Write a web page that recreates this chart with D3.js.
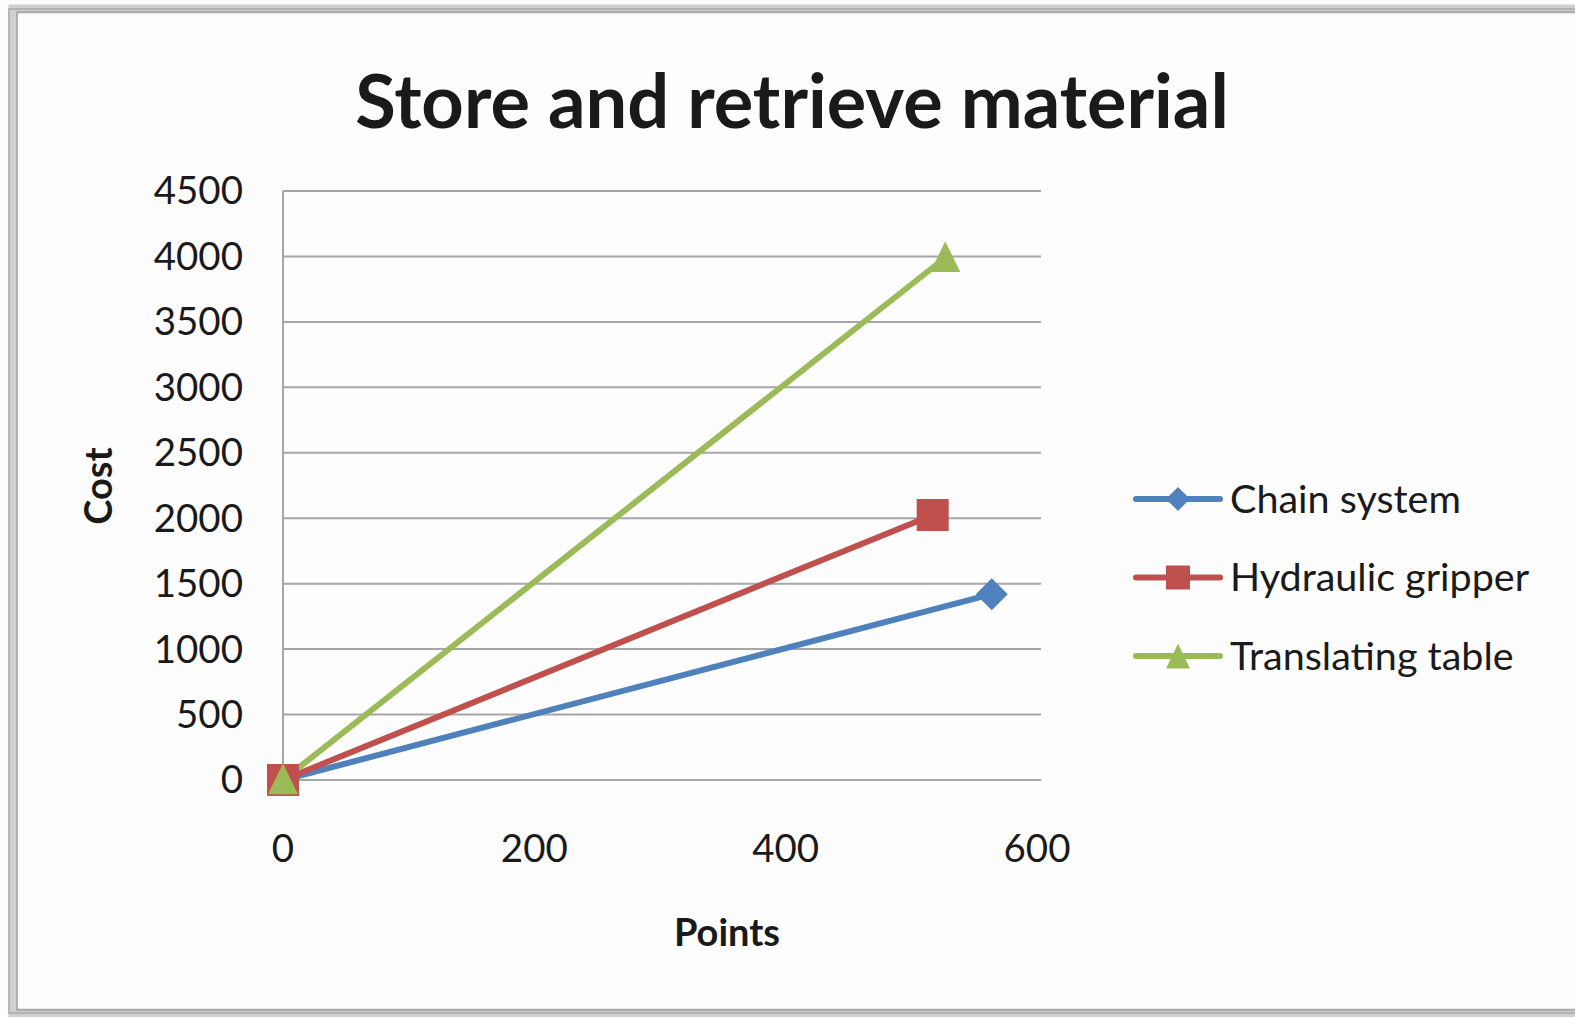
<!DOCTYPE html>
<html lang="en">
<head>
<meta charset="UTF-8">
<title>Store and retrieve material</title>
<style>
  body { margin: 0; background: #fdfdfd; }
  svg { display: block; }
  text { font-family: Lato, "Open Sans", sans-serif; fill: #1a1a1a; }
</style>
</head>
<body>
<div id="chart"></div>
<script src="https://d3js.org/d3.v7.min.js"></script>
<script>
// data
const seriesNames = ["Chain system", "Hydraulic gripper", "Translating table"];
const seriesColors = ["#4F81BD", "#C0504D", "#9BBB59"];
const seriesSymbols = ["diamond", "square", "triangle"];
const chainPoints = [[0, 0], [564, 1420]];
const hydraulicPoints = [[0, 0], [517, 2025]];
const translatingPoints = [[0, 0], [527, 3990]];
const xTicks = [0, 200, 400, 600];
const yTicks = [0, 500, 1000, 1500, 2000, 2500, 3000, 3500, 4000, 4500];

const seriesData = [chainPoints, hydraulicPoints, translatingPoints];

const width = 1575, height = 1017;
const margin = {left: 283, right: 538, top: 191, bottom: 237};

const svg = d3.select("#chart").append("svg")
    .attr("width", width)
    .attr("height", height);

// outer frame
svg.append("rect")
    .attr("x", 13).attr("y", 9)
    .attr("width", width + 20).attr("height", 1004)
    .attr("fill", "#fdfdfd")
    .attr("stroke", "#d0d0d0")
    .attr("stroke-width", 9);
svg.append("rect")
    .attr("x", 17).attr("y", 12)
    .attr("width", width + 20).attr("height", 998)
    .attr("fill", "none")
    .attr("stroke", "#a0a0a0")
    .attr("stroke-width", 1.5);
svg.append("rect")
    .attr("x", 9).attr("y", 9)
    .attr("width", width + 20).attr("height", 1004)
    .attr("fill", "none")
    .attr("stroke", "#a8a8a8")
    .attr("stroke-width", 1.5);

const x = d3.scaleLinear()
    .domain([0, 600])
    .range([margin.left, width - margin.right]);
const y = d3.scaleLinear()
    .domain([0, 4500])
    .range([height - margin.bottom, margin.top]);

// gridlines
svg.append("g")
    .attr("stroke", "#a6a6a6")
    .attr("stroke-width", 2)
    .selectAll("line")
    .data(yTicks)
    .join("line")
    .attr("x1", x(0))
    .attr("x2", x(600) + 4)
    .attr("y1", d => y(d))
    .attr("y2", d => y(d));

// y axis line
svg.append("line")
    .attr("x1", x(0)).attr("x2", x(0))
    .attr("y1", y(0)).attr("y2", y(4500))
    .attr("stroke", "#a6a6a6")
    .attr("stroke-width", 2);

// tick labels
svg.append("g")
    .style("font-size", "38.5px")
    .selectAll("text")
    .data(yTicks)
    .join("text")
    .attr("x", x(0) - 40)
    .attr("y", d => y(d))
    .attr("dy", "0.35em")
    .attr("text-anchor", "end")
    .text(d => d);

svg.append("g")
    .style("font-size", "38.5px")
    .selectAll("text")
    .data(xTicks)
    .join("text")
    .attr("x", d => x(d))
    .attr("y", y(0) + 82)
    .attr("text-anchor", "middle")
    .text(d => d);

// title and axis titles
svg.append("text")
    .attr("x", 792)
    .attr("y", 128)
    .attr("text-anchor", "middle")
    .style("font-size", "74px")
    .style("font-weight", "bold")
    .text("Store and retrieve material");

svg.append("text")
    .attr("x", 727)
    .attr("y", 946)
    .attr("text-anchor", "middle")
    .style("font-size", "38px")
    .style("font-weight", "bold")
    .text("Points");

svg.append("text")
    .attr("transform", "translate(112,486) rotate(-90)")
    .attr("text-anchor", "middle")
    .style("font-size", "38px")
    .style("font-weight", "bold")
    .text("Cost");

// Excel-style markers: r is half the marker width
function markerPath(sym, r) {
    if (sym === "diamond") return `M0,${-r}L${r},0L0,${r}L${-r},0Z`;
    if (sym === "square") return `M${-r},${-r}H${r}V${r}H${-r}Z`;
    return `M0,${-r * 1.1}L${r},${r * 0.95}H${-r}Z`;
}
const markerR = {diamond: 16, square: 16, triangle: 15};

const line = d3.line().x(d => x(d[0])).y(d => y(d[1]));

seriesData.forEach((pts, i) => {
    svg.append("path")
        .datum(pts)
        .attr("d", line)
        .attr("fill", "none")
        .attr("stroke", seriesColors[i])
        .attr("stroke-width", 6)
        .attr("stroke-linecap", "round");
});

// markers drawn after all lines, in series order
seriesData.forEach((pts, i) => {
    const sym = seriesSymbols[i];
    svg.append("g")
        .selectAll("path")
        .data(pts)
        .join("path")
        .attr("transform", d => `translate(${x(d[0])},${y(d[1])})`)
        .attr("d", markerPath(sym, markerR[sym]))
        .attr("fill", seriesColors[i]);
});

// legend
const legend = svg.append("g")
    .selectAll("g")
    .data(seriesNames)
    .join("g")
    .attr("transform", (d, i) => `translate(1136,${499 + i * 78.5})`);

legend.append("line")
    .attr("x1", 0).attr("x2", 84)
    .attr("stroke", (d, i) => seriesColors[i])
    .attr("stroke-width", 6)
    .attr("stroke-linecap", "round");

legend.append("path")
    .attr("transform", (d, i) => `translate(42,${seriesSymbols[i] === "triangle" ? 1 : 0})`)
    .attr("d", (d, i) => markerPath(seriesSymbols[i], 12))
    .attr("fill", (d, i) => seriesColors[i]);

legend.append("text")
    .attr("x", 94)
    .attr("dy", "0.35em")
    .style("font-size", "39.5px")
    .text(d => d);
</script>
</body>
</html>
